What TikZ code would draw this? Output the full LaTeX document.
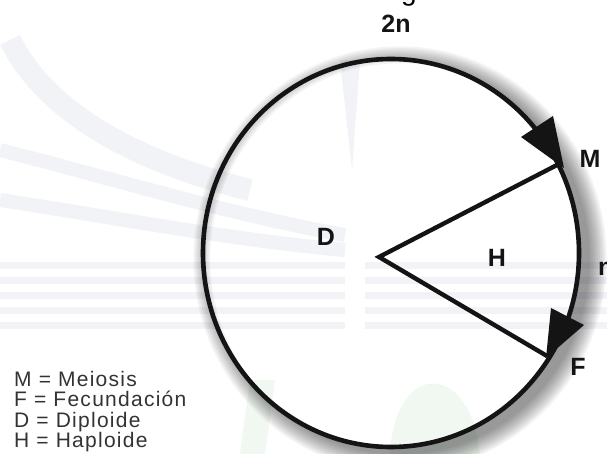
\documentclass[tikz,border=0pt]{standalone}
\usepackage{fontspec}
\setmainfont{Liberation Sans}
\definecolor{wm}{rgb}{0.945,0.952,0.97}
\definecolor{wmg}{rgb}{0.945,0.968,0.945}
\definecolor{ink}{rgb}{0.08,0.08,0.08}
\begin{document}
\begin{tikzpicture}[x=1pt,y=-1pt,
  lbl/.style={font=\fontsize{25}{25}\selectfont\bfseries, inner sep=0pt, text=ink},
  leg/.style={font=\fontsize{21}{21}\selectfont\addfontfeature{LetterSpace=6}, inner sep=0pt, anchor=base west, text=black!80},
  cyc/.style={line width=4.6pt, draw=ink},
  tipfill/.style={fill=ink}]
\useasboundingbox (0,0) rectangle (607,454);
\clip (0,0) rectangle (607,454);
\fill[white] (0,0) rectangle (607,454);
% faint watermark
\foreach \yy in {262,277,292,307,322} {
  \fill[wm] (0,\yy) rectangle (345,\yy+7);
  \fill[wm] (365,\yy) rectangle (607,\yy+7);
}
\draw[wm, line width=14pt] (0,150) .. controls (100,175) and (230,215) .. (345,235);
\draw[wm, line width=14pt] (0,200) .. controls (100,215) and (230,240) .. (345,250);
\draw[wm, line width=22pt] (10,40) .. controls (50,120) and (150,165) .. (250,190);
\fill[wm] (340,60) -- (360,60) -- (352,170) -- cycle;
\fill[wmg] (240,454) -- (250,380) -- (275,380) -- (265,454) -- cycle;
\fill[wmg] (390,454) .. controls (395,360) and (470,360) .. (480,454) -- cycle;
% shadow
\foreach \k in {1,...,11}
  \fill[black, opacity=0.042, even odd rule]
    (400,259) ellipse [x radius={188+1.7*\k}, y radius={194+1.7*\k}]
    (391,253) ellipse [x radius=188, y radius=194];
% cycle
\coordinate (C) at (391,253);
\coordinate (O) at (379,257);
\coordinate (M) at (557,165);
\coordinate (F) at (547,356);
\draw[cyc] (C) ellipse [x radius=188, y radius=194];
\draw[line width=4.4pt, draw=ink, line join=miter] (M) -- (O) -- (F);
\fill[tipfill] (553,116) -- (521,137) -- (564,168) -- cycle;
\fill[tipfill] (551,308) -- (584,325) -- (546,358) -- cycle;
% labels
\node[lbl] (l2n) at (396,24) {2n};
\node[lbl] (lD) at (326,237) {D};
\node[lbl] (lH) at (497,258) {H};
\node[lbl] (lM) at (590,159) {M};
\node[lbl] (lF) at (578,367) {F};
\node[lbl, anchor=west] (ln) at (598,269) {n};
\node[font=\fontsize{28}{28}\selectfont, inner sep=0pt, anchor=base] (tg) at (409,1) {g};
% legend
\node[leg] (k1) at (14,386) {M = Meiosis};
\node[leg] (k2) at (14,406) {F = Fecundación};
\node[leg] (k3) at (14,427) {D = Diploide};
\node[leg] (k4) at (14,447) {H = Haploide};
\end{tikzpicture}
\end{document}
